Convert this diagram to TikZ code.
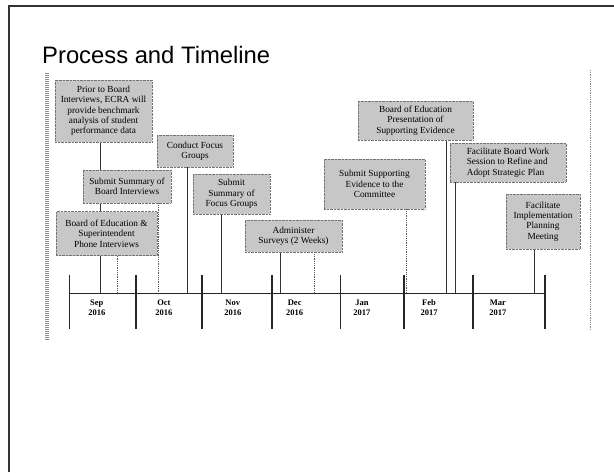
\documentclass[tikz,border=0pt]{standalone}
\usepackage{fontspec}
\setmainfont{Liberation Serif}
\newfontfamily\titlefont{Liberation Sans}
\usetikzlibrary{positioning,backgrounds}

\tikzset{
  task/.style={draw=black!55, densely dotted, fill=black!22, align=center, inner sep=1pt,
    font=\fontsize{9.3}{10.3}\selectfont},
  link/.style={draw=black!80, line width=0.8pt},
  dotlink/.style={draw=black!65, line width=0.8pt, densely dotted},
  monthtick/.style={draw=black!85, line width=1.6pt},
  axisline/.style={draw=black!85, line width=1.4pt},
  month/.style={align=center, inner sep=0pt, font=\bfseries\fontsize{8.5}{10}\selectfont}
}

\begin{document}
\begin{tikzpicture}[x=1pt,y=-1pt]

\useasboundingbox (0,0) rectangle (614,472);

\draw[line width=1.5pt, black!80] (9,472) -- (9,6) -- (614,6);
\draw[black!45, line width=4pt, dash pattern=on 1pt off 1pt] (46.5,73) -- (46.5,340);
\draw[black!45, line width=0.8pt, densely dotted] (590,70) -- (590,330);

\node[anchor=base west, inner sep=0pt, font=\titlefont\fontsize{23.8}{28}\selectfont] (title) at (42,63) {Process and Timeline};

\node[task, minimum width=97pt, minimum height=62pt] (prior) at (103.5,111) {Prior to Board\\Interviews, ECRA will\\provide benchmark\\analysis of student\\performance data};
\node[task, minimum width=76pt, minimum height=32pt] (focus) at (195,151) {Conduct Focus\\Groups};
\node[task, minimum width=88pt, minimum height=33pt] (sumboard) at (127,186.5) {Submit Summary of\\Board Interviews};
\node[task, minimum width=77pt, minimum height=40pt] (sumfocus) at (231.5,194) {Submit\\Summary of\\Focus Groups};
\node[task, minimum width=101pt, minimum height=44pt] (phone) at (106.5,233.5) {Board of Education \&\\Superintendent\\Phone Interviews};
\node[task, minimum width=97pt, minimum height=32pt] (survey) at (293.5,236) {Administer\\Surveys (2 Weeks)};
\node[task, minimum width=101pt, minimum height=50pt] (evidence) at (374.5,184) {Submit Supporting\\Evidence to the\\Committee};
\node[task, minimum width=115pt, minimum height=39pt] (present) at (415.5,120.5) {Board of Education\\Presentation of\\Supporting Evidence};
\node[task, align=left, minimum width=116pt, minimum height=39pt] (session) at (508,162.5) {Facilitate Board Work\\Session to Refine and\\Adopt Strategic Plan};
\node[task, minimum width=74pt, minimum height=55pt] (planning) at (543,221.5) {Facilitate\\Implementation\\Planning\\Meeting};

\foreach \x [count=\i] in {69.3,135.7,201.8,271.7,340.5,404.2,473,545} {
  \coordinate (m\i) at (\x,293.5);
  \draw[monthtick] (\x,274.5) -- (\x,328.5);
}
\draw[axisline] (m1) -- (m8);

\foreach \x/\m/\y in {96.8/Sep/2016,163.9/Oct/2016,232.8/Nov/2016,294.7/Dec/2016,361.9/Jan/2017,429/Feb/2017,497.8/Mar/2017}
  \node[month] (lbl\m) at (\x,308) {\m\\\y};

\coordinate (a1) at (100,293.5);
\coordinate (a2) at (117.5,293.5);
\coordinate (a3) at (158,293.5);
\coordinate (a4) at (187,293.5);
\coordinate (a5) at (221.5,293.5);
\coordinate (a6) at (280,293.5);
\coordinate (a7) at (314.5,293.5);
\coordinate (a8) at (406,293.5);
\coordinate (a9) at (446,293.5);
\coordinate (a10) at (455,293.5);
\coordinate (a11) at (534,293.5);

\begin{scope}[on background layer]
\draw[link] (prior.south -| a1) -- (a1);
\draw[dotlink] (phone.south -| a2) -- (a2);
\draw[dotlink] (sumboard.south -| a3) -- (a3);
\draw[link] (focus.south -| a4) -- (a4);
\draw[link] (sumfocus.south -| a5) -- (a5);
\draw[link] (survey.south -| a6) -- (a6);
\draw[dotlink] (survey.south -| a7) -- (a7);
\draw[dotlink] (evidence.south -| a8) -- (a8);
\draw[link] (present.south -| a9) -- (a9);
\draw[link] (session.south -| a10) -- (a10);
\draw[link] (planning.south -| a11) -- (a11);
\end{scope}

\end{tikzpicture}
\end{document}
